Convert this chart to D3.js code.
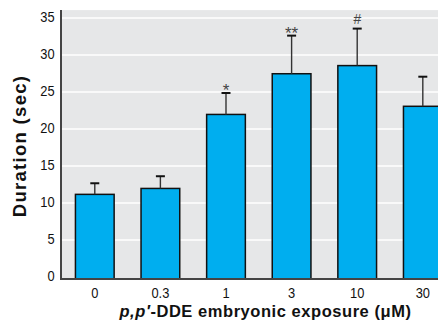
<!DOCTYPE html>
<html>
<head>
<meta charset="utf-8">
<script src="https://cdn.jsdelivr.net/npm/d3@7"></script>
<style>
  body { margin: 0; background: #fff; }
  svg { display: block; }
  text { font-family: "Liberation Sans", Arial, sans-serif; }
</style>
</head>
<body>
<div id="chart"></div>
<script>
//chart data
const doses = ["0", "0.3", "1", "3", "10", "30"];
const duration = [11.1, 11.9, 21.9, 27.4, 28.5, 23.0];
const errorUp = [1.5, 1.65, 2.9, 5.15, 5.0, 4.0];
const marks = ["", "", "*", "**", "#", ""];
const yTicks = [0, 5, 10, 15, 20, 25, 30, 35];

const width = 438;
const height = 325;
const left = 61;
const yTop = 36; //top of the gray panel, in data units

const svg = d3.select("#chart")
  .append("svg")
  .attr("width", width)
  .attr("height", height);

//scales
const x = d3.scaleBand()
  .domain(doses)
  .range([left, 456.6])
  .paddingInner(0.41)
  .paddingOuter(0.22);

const y = d3.scaleLinear()
  .domain([0, 35])
  .range([276.5, 17.5]);

//the drawn baseline sits a bit under the zero tick
const base = y(0) + 2.5;

//gray plot background
svg.append("rect")
  .attr("x", left)
  .attr("y", y(yTop))
  .attr("width", width - left)
  .attr("height", base - y(yTop))
  .attr("fill", "#e6e7e8");

//gridlines + y labels
const yAxis = d3.axisLeft(y)
  .tickValues(yTicks)
  .tickSize(-(width - left))
  .tickPadding(7);

const gy = svg.append("g")
  .attr("transform", `translate(${left},0)`)
  .call(yAxis);
gy.select(".domain").remove();
gy.selectAll(".tick line")
  .attr("stroke", (d) => d === 0 ? "none" : "#fff")
  .attr("stroke-width", 1.6);
gy.selectAll(".tick text")
  .attr("font-size", 14)
  .attr("fill", "#111")
  .attr("transform", "scale(0.92,1)")
  .style("font-family", "\"Liberation Sans\", Arial, sans-serif");

//bars
svg.append("g")
  .selectAll("rect")
  .data(duration)
  .join("rect")
  .attr("x", (d, i) => x(doses[i]))
  .attr("y", d => y(d))
  .attr("width", x.bandwidth())
  .attr("height", d => base - y(d))
  .attr("fill", "#00aeef")
  .attr("stroke", "#111")
  .attr("stroke-width", 1.5);

//error bars (upper only)
const err = svg.append("g");
duration.forEach((d, i) => {
  const cx = x(doses[i]) + x.bandwidth() / 2;
  const top = y(d + errorUp[i]);
  err.append("line")
    .attr("x1", cx).attr("x2", cx)
    .attr("y1", y(d)).attr("y2", top)
    .attr("stroke", "#333")
    .attr("stroke-width", 1.4);
  err.append("line")
    .attr("x1", cx - 4.5).attr("x2", cx + 4.5)
    .attr("y1", top).attr("y2", top)
    .attr("stroke", "#111")
    .attr("stroke-width", 2);
  if (marks[i]) {
    const hash = marks[i] === "#";
    err.append("text")
      .attr("x", cx)
      .attr("y", hash ? top - 4.4 : top + 3)
      .attr("text-anchor", "middle")
      .attr("font-size", hash ? 14 : 17)
      .attr("font-style", hash ? "italic" : "normal")
      .attr("fill", "#444")
      .text(marks[i]);
  }
});

//axis lines
svg.append("line")
  .attr("x1", left).attr("x2", left)
  .attr("y1", y(yTop)).attr("y2", base)
  .attr("stroke", "#444")
  .attr("stroke-width", 2);
svg.append("line")
  .attr("x1", left - 1).attr("x2", width)
  .attr("y1", base).attr("y2", base)
  .attr("stroke", "#444")
  .attr("stroke-width", 2);

//x labels
const xAxis = d3.axisBottom(x).tickSize(0).tickPadding(12);
const gx = svg.append("g")
  .attr("transform", `translate(0,${y(0)})`)
  .call(xAxis);
gx.select(".domain").remove();
gx.selectAll(".tick text")
  .attr("font-size", 14)
  .attr("fill", "#111")
  .attr("transform", "scale(0.92,1)")
  .style("font-family", "\"Liberation Sans\", Arial, sans-serif");

//axis titles
const xt = svg.append("text")
  .attr("x", 265.5)
  .attr("y", 317.3)
  .attr("text-anchor", "middle")
  .attr("font-size", 16.5)
  .attr("font-weight", "bold")
  .attr("letter-spacing", 0.55)
  .attr("fill", "#111");
xt.append("tspan").attr("font-style", "italic").text("p,p\u2032");
xt.append("tspan").text("-DDE embryonic exposure (\u03bcM)");

svg.append("text")
  .attr("transform", "translate(26,146) rotate(-90)")
  .attr("text-anchor", "middle")
  .attr("font-size", 18.5)
  .attr("font-weight", "bold")
  .attr("letter-spacing", 1.3)
  .attr("fill", "#111")
  .text("Duration (sec)");
</script>
</body>
</html>
